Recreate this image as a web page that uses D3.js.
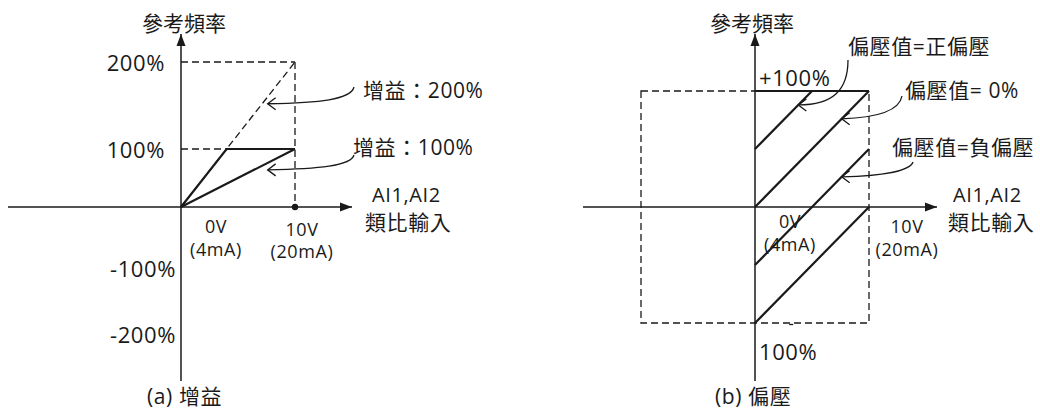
<!DOCTYPE html>
<html>
<head>
<meta charset="utf-8">
<script src="https://cdn.jsdelivr.net/npm/d3@7"></script>
<style>
  body { margin: 0; background: #fff; }
  text { font-family: "Open Sans", "Noto Sans CJK TC", sans-serif; fill: #1a1a1a; }
  .lat { letter-spacing: 0.6px; }
</style>
</head>
<body>
<div id="chart"></div>
<script>
// ---- data ----
// (a) gain: y tick values (percent) and labels
const gainTicks = [200, 100, -100, -200];
const gainTickLabels = ["200%", "100%", "-100%", "-200%"];
// gain lines: [volt, percent]
const gain200Dashed = [[0, 0], [10, 200]];
const gain200Solid = [[0, 0], [4, 100], [10, 100]];
const gain100Line = [[0, 0], [10, 100]];
const gainGuides = [200, 100];
const gainNotes = ["增益：200%", "增益：100%"];
const gainNoteTips = [[7.6, 152], [7.6, 64]];

// (b) bias lines: [volt, percent]
const biasTop = [[0, 100], [10, 100]];
const biasPos = [[0, 50], [5, 100]];
const biasZero = [[0, 0], [10, 100]];
const biasNeg = [[0, -50], [10, 50]];
const biasNeg100 = [[0, -100], [10, 0]];
const biasBox = [[-10, -100], [10, 100]];
const biasNotes = ["偏壓值=正偏壓", "偏壓值= 0%", "偏壓值=負偏壓"];
const biasNoteTips = [[3.8, 88], [7.6, 76], [7.6, 26]];

const xLabelsTop = ["0V", "10V"];
const xLabelsBottom = ["(4mA)", "(20mA)"];

// ---- drawing ----
const svg = d3.select("#chart").append("svg")
  .attr("width", 1040).attr("height", 412);

const ink = "#1a1a1a";

svg.append("defs").append("marker")
  .attr("id", "arrow")
  .attr("viewBox", "0 0 12 10")
  .attr("refX", 12).attr("refY", 5)
  .attr("markerWidth", 12).attr("markerHeight", 10)
  .attr("markerUnits", "userSpaceOnUse")
  .attr("orient", "auto")
  .append("path").attr("d", "M0,0.5 L12,5 L0,9.5 Z").attr("fill", ink);

const line = (sx, sy) => d3.line().x(d => sx(d[0])).y(d => sy(d[1]));

function chevron(g, x, y) {
  g.append("path")
    .attr("d", `M${x + 8},${y - 6} L${x},${y} L${x + 8},${y + 6}`)
    .attr("fill", "none").attr("stroke", ink).attr("stroke-width", 1.3);
}

// ===== (a) 增益 =====
const xA = d3.scaleLinear().domain([0, 10]).range([181, 295]);
const yA = d3.scaleLinear().domain([-200, -100, 0, 100, 200]).range([334, 268, 207, 149, 62]);
const gA = svg.append("g");

// axes
gA.append("line").attr("x1", 8).attr("x2", 352).attr("y1", yA(0)).attr("y2", yA(0))
  .attr("stroke", ink).attr("stroke-width", 1.5).attr("marker-end", "url(#arrow)");
gA.append("line").attr("x1", xA(0)).attr("x2", xA(0)).attr("y1", 381).attr("y2", 34)
  .attr("stroke", ink).attr("stroke-width", 1.5).attr("marker-end", "url(#arrow)");

// dashed guides
gA.selectAll(".guide").data(gainGuides).join("line")
  .attr("x1", xA(0)).attr("x2", xA(10)).attr("y1", d => yA(d)).attr("y2", d => yA(d))
  .attr("stroke", ink).attr("stroke-width", 1.3).attr("stroke-dasharray", "7,4");
gA.append("line").attr("x1", xA(10)).attr("x2", xA(10)).attr("y1", yA(200)).attr("y2", yA(0))
  .attr("stroke", ink).attr("stroke-width", 1.3).attr("stroke-dasharray", "7,4");
gA.append("circle").attr("cx", xA(10)).attr("cy", yA(0)).attr("r", 3.2).attr("fill", ink);

// lines
gA.append("path").attr("d", line(xA, yA)(gain200Dashed))
  .attr("fill", "none").attr("stroke", ink).attr("stroke-width", 1.3).attr("stroke-dasharray", "7,4");
[gain200Solid, gain100Line].forEach(p => {
  gA.append("path").attr("d", line(xA, yA)(p))
    .attr("fill", "none").attr("stroke", ink).attr("stroke-width", 2.2);
});

// tick labels
gA.selectAll(".ytick").data(gainTicks).join("text")
  .attr("class", "lat")
  .attr("x", d => xA(0) + (d > 0 ? -16 : -5))
  .attr("y", d => yA(d))
  .attr("text-anchor", "end").attr("dominant-baseline", "central")
  .style("font-size", "22px")
  .text((d, i) => gainTickLabels[i]);

// voltage labels
[0, 10].forEach((v, i) => {
  const cx = v === 0 ? xA(v) + 35 : xA(v) + 7;
  gA.append("text").attr("class", "lat").attr("x", cx).attr("y", v === 0 ? 226 : 229)
    .attr("text-anchor", "middle").attr("dominant-baseline", "central")
    .style("font-size", "18px").text(xLabelsTop[i]);
  gA.append("text").attr("class", "lat").attr("x", cx).attr("y", v === 0 ? 249 : 251)
    .attr("text-anchor", "middle").attr("dominant-baseline", "central")
    .style("font-size", "18px").text(xLabelsBottom[i]);
});

gA.append("text").attr("x", xA(0) + 3).attr("y", 23).attr("text-anchor", "middle")
  .attr("dominant-baseline", "central").style("font-size", "21px").text("參考頻率");
gA.append("text").attr("class", "lat").attr("x", 372).attr("y", 194).attr("dominant-baseline", "central")
  .style("font-size", "20px").text("AI1,AI2");
gA.append("text").attr("class", "lat").attr("x", 365).attr("y", 222).attr("dominant-baseline", "central")
  .style("font-size", "21px").text("類比輸入");
gA.append("text").attr("class", "lat").attr("x", 147).attr("y", 396).attr("dominant-baseline", "central")
  .style("font-size", "21px").text("(a) 增益");

// annotations
const gainNoteAt = [[363, 90], [353, 147]];
gainNotes.forEach((t, i) => {
  const [tx, ty] = gainNoteAt[i];
  gA.append("text").attr("class", "lat").attr("x", tx).attr("y", ty).attr("dominant-baseline", "central")
    .style("font-size", "21px").text(t);
  const ex = xA(gainNoteTips[i][0]), ey = yA(gainNoteTips[i][1]);
  const sx = 354, sy = ty + (i === 0 ? -3 : 8);
  gA.append("path")
    .attr("d", `M${sx},${sy} C${sx - 3},${ey - 4} ${sx - 35},${ey - 1} ${ex},${ey}`)
    .attr("fill", "none").attr("stroke", ink).attr("stroke-width", 1.3);
  chevron(gA, ex, ey);
});

// ===== (b) 偏壓 =====
const xB = d3.scaleLinear().domain([0, 10]).range([755, 869]);
const yB = d3.scaleLinear().domain([-100, 100]).range([323, 91]);
const gB = svg.append("g");

gB.append("line").attr("x1", 583).attr("x2", 937).attr("y1", yB(0)).attr("y2", yB(0))
  .attr("stroke", ink).attr("stroke-width", 1.5).attr("marker-end", "url(#arrow)");
gB.append("line").attr("x1", xB(0)).attr("x2", xB(0)).attr("y1", 381).attr("y2", 34)
  .attr("stroke", ink).attr("stroke-width", 1.5).attr("marker-end", "url(#arrow)");

gB.append("rect")
  .attr("x", xB(biasBox[0][0])).attr("y", yB(biasBox[1][1]))
  .attr("width", xB(biasBox[1][0]) - xB(biasBox[0][0]))
  .attr("height", yB(biasBox[0][1]) - yB(biasBox[1][1]))
  .attr("fill", "none").attr("stroke", ink).attr("stroke-width", 1.3).attr("stroke-dasharray", "7,4");

[biasTop, biasPos, biasZero, biasNeg, biasNeg100].forEach(p => {
  gB.append("path").attr("d", line(xB, yB)(p))
    .attr("fill", "none").attr("stroke", ink).attr("stroke-width", 2.2);
});

gB.append("text").attr("class", "lat").attr("x", xB(0) + 4).attr("y", yB(100) - 14).attr("dominant-baseline", "central")
  .style("font-size", "22px").text("+100%");
gB.append("text").attr("class", "lat").attr("x", xB(0) + 4).attr("y", yB(-100) + 28).attr("dominant-baseline", "central")
  .style("font-size", "22px").text("100%");
gB.append("line").attr("x1", xB(3)).attr("x2", xB(3) + 4).attr("y1", yB(-100) + 1.5).attr("y2", yB(-100) + 1.5)
  .attr("stroke", ink).attr("stroke-width", 1.3);

[0, 10].forEach((v, i) => {
  const cx = xB(v) + (v === 0 ? 35 : 38);
  gB.append("text").attr("class", "lat").attr("x", cx).attr("y", v === 0 ? 221 : 226)
    .attr("text-anchor", "middle").attr("dominant-baseline", "central")
    .style("font-size", "18px").text(xLabelsTop[i]);
  gB.append("text").attr("class", "lat").attr("x", cx).attr("y", v === 0 ? 244 : 249)
    .attr("text-anchor", "middle").attr("dominant-baseline", "central")
    .style("font-size", "18px").text(xLabelsBottom[i]);
});

gB.append("text").attr("x", xB(0) - 3).attr("y", 23).attr("text-anchor", "middle")
  .attr("dominant-baseline", "central").style("font-size", "21px").text("參考頻率");
gB.append("text").attr("class", "lat").attr("x", 953).attr("y", 194).attr("dominant-baseline", "central")
  .style("font-size", "20px").text("AI1,AI2");
gB.append("text").attr("class", "lat").attr("x", 948).attr("y", 222).attr("dominant-baseline", "central")
  .style("font-size", "21px").text("類比輸入");
gB.append("text").attr("class", "lat").attr("x", 715).attr("y", 396).attr("dominant-baseline", "central")
  .style("font-size", "21px").text("(b) 偏壓");

const biasNoteAt = [[848, 46], [905, 90], [892, 147]];
const biasCurveStart = [[848, 60], [902, 96], [913, 162]];
biasNotes.forEach((t, i) => {
  const [tx, ty] = biasNoteAt[i];
  gB.append("text").attr("class", "lat").attr("x", tx).attr("y", ty).attr("dominant-baseline", "central")
    .style("font-size", "21px").text(t);
  const ex = xB(biasNoteTips[i][0]), ey = yB(biasNoteTips[i][1]);
  const [sx, sy] = biasCurveStart[i];
  const d = i === 0
    ? `M${sx},${sy} C${sx},${sy + 30} ${sx - 15},${ey} ${ex},${ey}`
    : `M${sx},${sy} C${sx - 3},${ey - 6} ${sx - 30},${ey - 1} ${ex},${ey}`;
  gB.append("path").attr("d", d)
    .attr("fill", "none").attr("stroke", ink).attr("stroke-width", 1.3);
  chevron(gB, ex, ey);
});
</script>
</body>
</html>
